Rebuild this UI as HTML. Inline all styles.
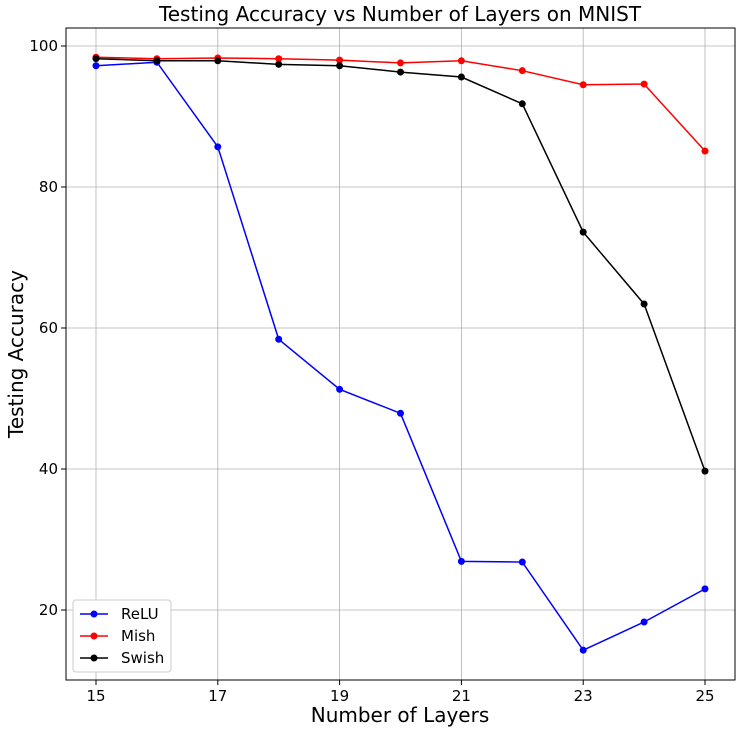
<!DOCTYPE html>
<html><head><meta charset="utf-8"><style>
body{margin:0;background:#fff;font-family:"Liberation Sans","DejaVu Sans",sans-serif}
svg text{font-family:"DejaVu Sans","Liberation Sans",sans-serif}
</style></head><body>
<svg id="chart" width="746" height="732" xmlns="http://www.w3.org/2000/svg">
<rect width="746" height="732" fill="#fff"/>
<g id="grid"></g>
<g id="ticks"></g>
<g id="series"></g>
<rect x="66" y="28" width="669" height="652" fill="none" stroke="#000" stroke-width="1"/>
<text x="400" y="21" font-size="20" text-anchor="middle">Testing Accuracy vs Number of Layers on MNIST</text>
<text x="400" y="722" font-size="20" text-anchor="middle">Number of Layers</text>
<text transform="translate(23,354) rotate(-90)" font-size="20" text-anchor="middle">Testing Accuracy</text>
<g id="legend"></g>
</svg>
<script>
const layers=[15,16,17,18,19,20,21,22,23,24,25];
const relu=[97.2,97.7,85.7,58.4,51.3,47.9,26.9,26.8,14.3,18.3,23.0];
const mish=[98.4,98.2,98.3,98.2,98.0,97.6,97.9,96.5,94.5,94.6,85.1];
const swish=[98.2,97.9,97.9,97.4,97.2,96.3,95.6,91.8,73.6,63.4,39.7];
const xTicks=[15,17,19,21,23,25];
const yTicks=[20,40,60,80,100];
const NS="http://www.w3.org/2000/svg";
function xs(v){return 96+(v-15)*60.9;}
function ys(v){return 610-(v-20)*7.05;}
function mk(t,a,p){const e=document.createElementNS(NS,t);for(const k in a)e.setAttribute(k,a[k]);p.appendChild(e);return e;}
const grid=document.getElementById('grid'),ticks=document.getElementById('ticks');
xTicks.forEach(v=>{
 const g=mk('line',{x1:xs(v),x2:xs(v),y1:28,y2:680,stroke:'#b0b0b0','stroke-width':0.8},grid);
 
 
 const t=mk('line',{x1:xs(v),x2:xs(v),y1:680,y2:685,stroke:'#000'},ticks);
 
 
 const l=mk('text',{x:xs(v),y:701,'font-size':15,'text-anchor':'middle'},ticks);l.textContent=v;
 
 
});
yTicks.forEach(v=>{
 const g=mk('line',{x1:66,x2:735,y1:ys(v),y2:ys(v),stroke:'#b0b0b0','stroke-width':0.8},grid);
 
 
 const t=mk('line',{x1:61,x2:66,y1:ys(v),y2:ys(v),stroke:'#000'},ticks);
 
 
 const l=mk('text',{x:58,y:ys(v)+5,'font-size':15,'text-anchor':'end'},ticks);l.textContent=v;
 
 
});
const ser=document.getElementById('series');
[['relu',relu,'#0000ff'],['mish',mish,'#ff0000'],['swish',swish,'#000000']].forEach(([n,d,c])=>{
 const g=mk('g',{},ser);
 
 
 const pl=mk('polyline',{points:d.map((v,i)=>xs(layers[i])+','+ys(v)).join(' '),fill:'none',stroke:c,'stroke-width':1.5},g);
 
 
 d.forEach((v,i)=>{const p=mk('circle',{cx:xs(layers[i]),cy:ys(v),r:3.5,fill:c},g);
  
  });
});
const lg=document.getElementById('legend');
mk('rect',{x:73,y:600,width:98,height:72,rx:3,fill:'#fff',stroke:'#ccc'},lg);
[['ReLU','#0000ff'],['Mish','#ff0000'],['Swish','#000000']].forEach(([n,c],i)=>{
 const y=614+i*22;
 const e=mk('g',{},lg);
 
 
 mk('line',{x1:80,x2:108,y1:y,y2:y,stroke:c,'stroke-width':1.5},e);
 mk('circle',{cx:94,cy:y,r:3.5,fill:c},e);
 const t=mk('text',{x:121,y:y+5,'font-size':15},e);t.textContent=n;
});
</script>
</body></html>
